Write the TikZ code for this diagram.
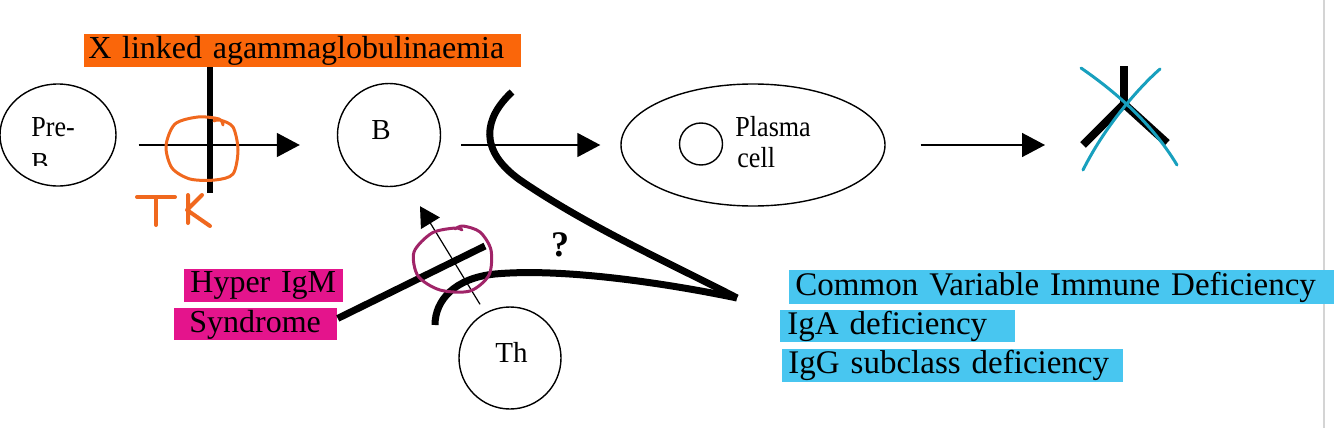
\documentclass[tikz,border=0pt]{standalone}
\usepackage{fontspec}
\setmainfont{Liberation Serif}
\usetikzlibrary{arrows.meta,calc,shapes.geometric}
\definecolor{xlorange}{RGB}{250,102,10}
\definecolor{penorange}{RGB}{240,104,30}
\definecolor{hypmag}{RGB}{228,20,140}
\definecolor{penpurple}{RGB}{160,36,104}
\definecolor{cvcyan}{RGB}{72,198,240}
\definecolor{pencyan}{RGB}{24,160,190}
\definecolor{edge}{RGB}{212,212,212}
\begin{document}
\begin{tikzpicture}[x=0.5pt,y=-0.5pt,
  cellshape/.style={draw, line width=0.7pt, inner sep=0pt},
  arr/.style={line width=0.8pt, -{Triangle[length=11.5pt,width=12pt]}},
  thinarr/.style={line width=0.6pt, -{Triangle[length=10pt,width=11pt]}},
  lab/.style={anchor=north west, inner ysep=0pt, align=left, font=\fontsize{16pt}{18pt}\selectfont},
  cvlab/.style={lab, fill=cvcyan, font=\fontsize{16.5pt}{18pt}\selectfont},
  txt/.style={anchor=base west, inner sep=0pt, font=\fontsize{14.5pt}{16pt}\selectfont},
  bold/.style={line width=3.5pt},
  pen/.style={line width=1.5pt, line cap=round, line join=round},
]
\useasboundingbox (0,0) rectangle (1334,428);
% frame edge line at right
\draw[edge, line width=0.8pt] (1324,0) -- (1324,428);

% cells
\node[cellshape, ellipse, minimum width=58pt, minimum height=51pt] (preb) at (58,135) {};
\node[cellshape, circle, minimum size=51.5pt] (b) at (389,135) {};
\node[cellshape, ellipse, minimum width=132pt, minimum height=61pt] (plasma) at (753,145) {};
\node[cellshape, ellipse, minimum width=21.5pt, minimum height=21pt] (nucleus) at (701,144) {};
\node[cellshape, circle, minimum size=51pt] (th) at (510,358) {};

% cell texts
\node[txt] (pretxt) at (31,136) {\scalebox{0.9}[1]{Pre-}};
\begin{scope}
  \clip (0,0) rectangle (120,165);
  \node[txt] (pretxtb) at (31,172) {\scalebox{0.9}[1]{B}};
\end{scope}
\node[txt] (btxt) at (371,139) {B};
\node[txt] (plasmatxt) at (735,136) {\scalebox{0.9}[1]{Plasma}};
\node[txt] (celltxt) at (737,167) {\scalebox{0.9}[1]{cell}};
\node[txt] (thtxt) at (495,362) {Th};

% main arrows
\coordinate (blk) at (1045,145);
\draw[arr] ($(preb.east)+(22,10)$) -- ($(b.west)+(-37,10)$);
\draw[arr] ($(b.east)+(20,10)$) -- ($(plasma.west)+(-20,0)$);
\draw[arr] ($(plasma.east)+(35,0)$) -- (blk);

% XLA block bar
\draw[line width=2.6pt] (210,67) -- (210,193);

% labels
\node[lab, fill=xlorange, minimum height=16.5pt, inner xsep=2pt, text width=214.5pt] (xla) at (84,34) {\mbox{X linked agammaglobulinaemia}};
\node[lab, fill=hypmag, minimum height=16.5pt, inner xsep=3pt, text width=73.5pt] (hyper) at (184,269) {\mbox{Hyper IgM}};
\node[lab, fill=hypmag, minimum height=16pt, inner xsep=7.5pt, text width=66.5pt] (synd) at (174,308) {\mbox{Syndrome}};
\node[cvlab, minimum height=17pt, inner xsep=3pt, text width=266.5pt] (cvid) at (789,270) {\mbox{Common Variable Immune Deficiency}};
\node[cvlab, minimum height=16pt, inner xsep=3.5pt, text width=110.5pt] (iga) at (780,310) {\mbox{IgA deficiency}};
\node[cvlab, minimum height=16.5pt, inner xsep=3pt, text width=164.5pt] (igg) at (782,349) {\mbox{IgG subclass deficiency}};

% question mark
\node[inner sep=0pt, font=\fontsize{18pt}{20pt}\selectfont\bfseries] (q) at (560,245) {?};

% T helper arrow
\draw[thinarr] ($(th.north)+(-30,-2)$) -- ($(b.south)+(31,19)$);

% Hyper IgM block line
\coordinate (hypend) at (485,246);
\draw[bold] ($(synd.east)+(0,-6)$) -- (hypend);

% CVID block curves
\draw[bold] (512,92) .. controls (484,118) and (478,150) .. (520,180)
  .. controls (590,228) and (680,268) .. (737,298);
\draw[bold] (737,298) .. controls (660,282) and (560,268) .. (495,274)
  .. controls (455,278) and (435,300) .. (435,325);

% blocked antibody symbol
\draw[line width=4pt] (1124,66) -- (1124,105);
\draw[line width=4pt] (1125,103) -- (1083,145);
\draw[line width=4pt] (1123,103) -- (1167,143);
\draw[pencyan, pen] (1081,68) .. controls (1110,88) and (1150,120) .. (1177,165);
\draw[pencyan, pen] (1160,69) .. controls (1145,82) and (1108,120) .. (1083,170);

% handwritten orange circle and TK
\draw[penorange, pen] plot[smooth] coordinates {(223,125) (219,119) (198,117) (175,124) (166,146) (172,168) (190,179) (215,180) (233,174) (238,150) (233,127) (220,120) (214,121)};
\draw[penorange, line width=2pt, line cap=round] (137,197) -- (175,197) (156,197) -- (156,225);
\draw[penorange, line width=2pt, line cap=round, line join=round] (188,195) -- (188,223) (202,195) -- (187,210) -- (210,226);

% handwritten purple circle
\draw[penpurple, pen] plot[smooth] coordinates {(462,230) (455,228) (432,233) (414,252) (418,276) (440,290) (470,291) (489,275) (491,250) (480,232) (463,226) (455,229)};
\end{tikzpicture}
\end{document}
